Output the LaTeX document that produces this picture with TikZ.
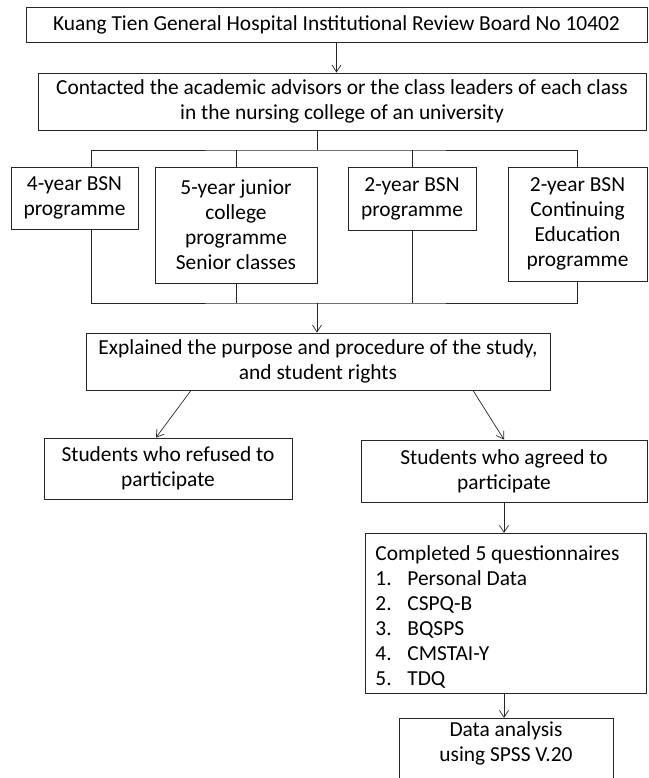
\documentclass[tikz,border=0pt]{standalone}
\usepackage{fontspec}
\setmainfont{Carlito}
\usetikzlibrary{arrows.meta}

\begin{document}
\begin{tikzpicture}[x=1pt,y=-1pt,
  blk/.style={draw=black!85, line width=0.8pt, align=center, inner sep=0pt, font=\fontsize{21.4}{25}\selectfont},
  ln/.style={draw=black!85, line width=0.7pt},
  arr/.style={draw=black!85, line width=0.7pt, -{Straight Barb[length=7pt,width=9pt]}}]
\useasboundingbox (0,0) rectangle (648,778);
% boxes
\node [blk, minimum width=621, minimum height=35] (irb) at (336.5,24.5) {Kuang Tien General Hospital Institutional Review Board No 10402};
\node [blk, minimum width=608, minimum height=57] (contact) at (342,101.5) {Contacted the academic advisors or the class leaders of each class\\in the nursing college of an university};
\node [blk, minimum width=127, minimum height=62] (y4) at (74.5,198) {4-year BSN\\programme};
\node [blk, minimum width=162, minimum height=116] (y5) at (236,225) {5-year junior\\college\\programme\\Senior classes};
\node [blk, minimum width=128, minimum height=63] (y2) at (412,198.5) {2-year BSN\\programme};
\node [blk, minimum width=139, minimum height=114] (ce) at (577.5,224) {2-year BSN\\Continuing\\Education\\programme};
\node [blk, minimum width=464, minimum height=57] (explain) at (318,361.5) {Explained the purpose and procedure of the study,\\and student rights};
\node [blk, minimum width=248, minimum height=61] (refused) at (168,468.5) {Students who refused to\\participate};
\node [blk, minimum width=286, minimum height=62] (agreed) at (504,471) {Students who agreed to\\participate};
\node [blk, anchor=north west, align=flush left, text width=261, inner xsep=10, inner ysep=5, text depth=128] (quest) at (365,533) {\rule{0pt}{22pt}Completed 5 questionnaires\\
  \makebox[32pt][l]{1.}Personal Data\\
  \makebox[32pt][l]{2.}CSPQ-B\\
  \makebox[32pt][l]{3.}BQSPS\\
  \makebox[32pt][l]{4.}CMSTAI-Y\\
  \makebox[32pt][l]{5.}TDQ};
\node [blk, anchor=north, minimum width=214, inner ysep=3, text depth=50] (data) at (506,718) {Data analysis\\using SPSS V.20};
% bus lines
\coordinate (bus1) at (317,150);
\coordinate (bus2) at (317,303);
% connectors
\draw [arr] (irb.south) -- (irb.south |- contact.north);
\draw [ln] (contact.south -| bus1) -- (bus1);
\draw [ln] ([xshift=16.5]y4.north) |- (bus1) -| (ce.north);
\draw [ln] (y5.north) -- (y5.north |- bus1);
\draw [ln] (y2.north) -- (y2.north |- bus1);
\draw [ln] ([xshift=16.5]y4.south) |- (bus2) -| (ce.south);
\draw [ln] (y5.south) -- (y5.south |- bus2);
\draw [ln] (y2.south) -- (y2.south |- bus2);
\draw [arr] (bus2) -- (bus2 |- explain.north);
\draw [arr] ([xshift=-127]explain.south) -- ([xshift=-12]refused.north);
\draw [arr] ([xshift=155]explain.south) -- (agreed.north);
\draw [arr] (agreed.south) -- (agreed.south |- quest.north);
\draw [arr] (agreed.south |- quest.south) -- (agreed.south |- data.north);
\end{tikzpicture}
\end{document}
